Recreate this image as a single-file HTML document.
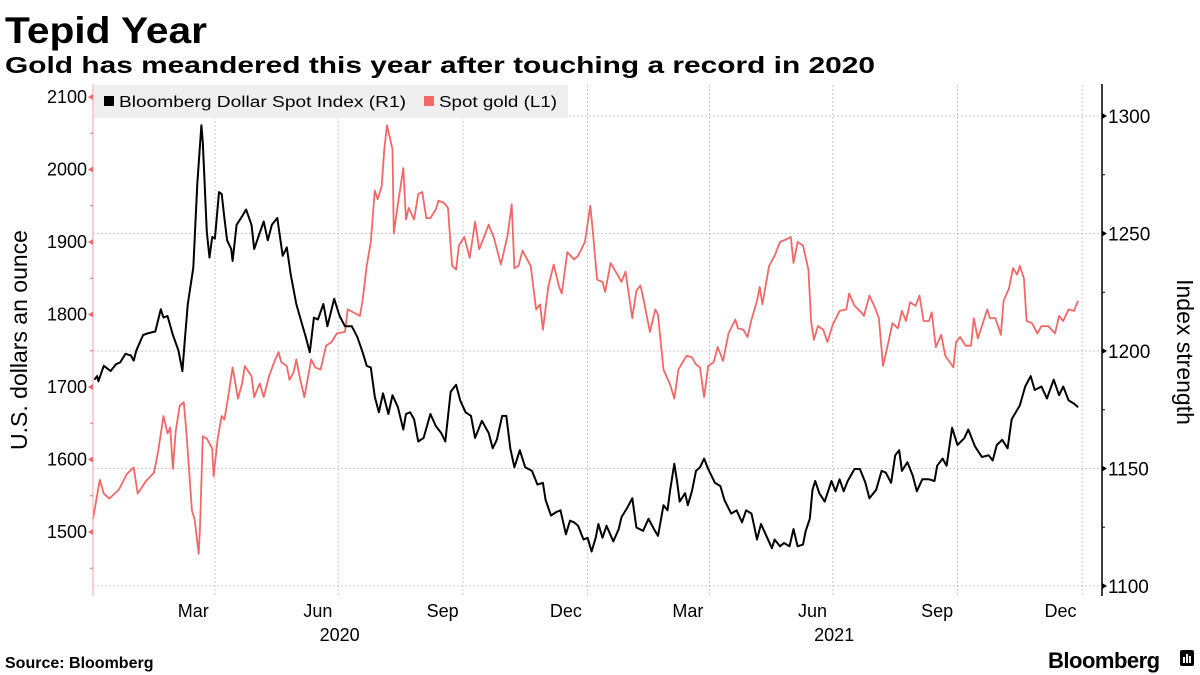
<!DOCTYPE html>
<html><head><meta charset="utf-8"><style>
html,body{margin:0;padding:0;background:#fff;}
svg{display:block;font-family:"Liberation Sans",sans-serif;}
</style></head><body>
<svg id="chart" width="1200" height="675" viewBox="0 0 1200 675">
<text x="5" y="43" font-size="37" font-weight="bold" textLength="202" lengthAdjust="spacingAndGlyphs">Tepid Year</text>
<text x="5" y="73" font-size="23" font-weight="bold" textLength="870" lengthAdjust="spacingAndGlyphs">Gold has meandered this year after touching a record in 2020</text>
<g id="grid"></g>
<g id="series"></g>
<g id="axes"></g>
<g>
<rect x="94" y="85" width="474" height="33" fill="#efefef"/>
<rect x="104" y="96" width="10" height="10" fill="#000"/>
<text x="119" y="107" font-size="15.5" textLength="287" lengthAdjust="spacingAndGlyphs">Bloomberg Dollar Spot Index (R1)</text>
<rect x="424" y="96" width="10" height="10" fill="#f26868"/>
<text x="439" y="107" font-size="15.5" textLength="118" lengthAdjust="spacingAndGlyphs">Spot gold (L1)</text>
</g>
<text transform="translate(27,340) rotate(-90)" text-anchor="middle" font-size="23">U.S. dollars an ounce</text>
<text transform="translate(1177,352) rotate(90)" text-anchor="middle" font-size="23">Index strength</text>
<text x="5" y="668" font-size="16" font-weight="bold">Source: Bloomberg</text>
<text x="1048" y="668" font-size="22" font-weight="bold" letter-spacing="-0.5">Bloomberg</text>
<g>
<rect x="1180" y="650" width="14" height="16" rx="2" fill="#000"/>
<rect x="1183" y="657" width="2" height="6" fill="#fff"/><rect x="1186" y="654" width="2" height="9" fill="#fff"/><rect x="1189" y="656" width="2" height="7" fill="#fff"/>
</g>
</svg>
<script>
const goldDays=[0,5,8,12,19,25,30,33,39,45,48,52,55,57,59,61,64,67,69,73,75,78,79,81,84,88,89,92,95,97,100,103,107,110,112,117,119,123,126,130,134,137,139,143,145,148,150,153,156,161,164,168,172,176,180,186,188,193,197,199,202,205,208,210,213,215,217,221,222,225,229,231,233,237,240,243,246,249,253,
255,259,262,265,268,270,274,278,282,285,289,292,296,301,306,309,311,314,317,323,327,330,332,336,340,344,346,350,355,358,363,367,369,372,376,378,382,387,390,393,398,401,404,406,411,415,417,421,426,429,432,438,442,445,448,451,454,458,461,465,469,474,476,480,483,486,
490,492,494,499,503,507,512,515,517,520,524,528,530,532,535,539,542,546,551,556,558,562,567,569,573,577,580,583,586,590,594,597,600,603,607,610,613,617,619,622,626,629,635,637,640,644,648,650,653,656,660,662,666,670,672,676,679,682,684,687,689,693,697,700,705,710,713,716,720,724,727];
const goldValues=[1518,1572,1553,1546,1558,1580,1589,1553,1570,1582,1610,1660,1636,1644,1587,1639,1674,1679,1636,1530,1518,1470,1506,1632,1629,1615,1577,1629,1660,1655,1689,1727,1684,1705,1729,1715,1686,1705,1686,1715,1736,1748,1734,1729,1710,1720,1738,1710,1686,1738,1727,1724,1757,1762,1774,1776,1807,1802,1798,1819,1867,1900,1971,1959,1976,2028,2061,2028,1912,1952,2002,1931,1947,1931,1966,1969,1933,1933,1945,
1957,1954,1947,1867,1862,1895,1907,1878,1928,1890,1909,1924,1905,1869,1909,1952,1864,1867,1888,1867,1807,1814,1779,1838,1869,1838,1829,1886,1876,1881,1900,1950,1912,1848,1845,1831,1871,1855,1845,1859,1795,1833,1840,1824,1776,1807,1800,1724,1703,1684,1724,1743,1741,1731,1727,1686,1729,1734,1755,1736,1774,1793,1781,1779,1769,1793,
1819,1838,1814,1867,1881,1900,1904,1907,1871,1900,1895,1862,1791,1765,1784,1779,1762,1786,1805,1807,1829,1812,1803,1798,1826,1810,1795,1729,1753,1788,1781,1805,1791,1817,1812,1826,1791,1791,1803,1755,1772,1743,1727,1762,1769,1757,1757,1795,1767,1784,1807,1795,1795,1772,1819,1836,1864,1855,1867,1850,1791,1788,1774,1784,1784,1774,1798,1791,1807,1805,1819];
const dollarDays=[1,3,4,8,13,17,20,24,28,30,32,37,41,46,50,52,55,59,63,66,68,70,74,77,80,81,84,86,88,90,93,95,97,99,102,103,106,110,113,117,119,122,126,129,132,136,140,143,146,150,154,157,160,163,166,170,173,178,182,186,191,195,199,202,205,208,211,214,218,221,225,229,231,234,237,240,244,249,253,
257,260,264,268,271,275,279,282,287,292,295,298,302,305,308,311,315,319,324,328,332,334,338,342,345,349,352,355,358,362,365,368,371,373,376,379,384,388,390,394,398,401,406,410,414,417,421,424,426,429,431,433,437,439,442,445,448,451,454,459,463,466,471,475,479,482,486,
490,493,497,501,503,507,510,514,517,520,524,526,529,531,533,536,540,545,548,551,554,557,562,566,570,573,578,582,585,589,592,595,597,601,605,608,612,617,621,623,627,630,634,638,643,646,651,656,661,664,667,671,675,678,681,684,688,692,695,700,704,709,713,716,720,724,727];
const dollarValues=[1187.8,1189.3,1187.1,1193.7,1191.5,1194.4,1195.1,1198.8,1198.1,1195.9,1200.3,1206.8,1207.6,1208.3,1217.8,1214.2,1214.9,1206.8,1200.3,1191.5,1206.1,1220,1235.4,1271.2,1296.1,1288.8,1250.7,1239.8,1248.5,1247.8,1267.6,1266.8,1256.6,1247.1,1243.4,1238.3,1253.7,1257.3,1260.2,1253.7,1243.4,1248.5,1255.1,1247.1,1253.7,1256.6,1240.5,1244.1,1232.4,1220,1211.9,1206.1,1199.5,1214.2,1213.4,1220,1210.5,1222.2,1214.9,1210.5,1210.5,1206.1,1199.5,1193.7,1193,1180.5,1173.9,1182,1173.2,1181.2,1176.1,1166.6,1173.2,1173.9,1171,1161.5,1163,1173.2,1168.1,
1165.1,1161.5,1182.7,1185.6,1179,1173.9,1172.4,1163,1170.3,1165.1,1158.6,1162.2,1172.4,1172.4,1158.6,1150.5,1157.8,1150.5,1149,1143.2,1143.9,1136.6,1130,1131.5,1132.2,1122,1127.8,1127.1,1125.6,1119.8,1120.5,1114.7,1120.5,1126.4,1120.5,1125.6,1119,1124.2,1129.3,1133,1137.3,1124.9,1123.5,1128.6,1124.2,1121.3,1134.4,1132.2,1141,1152,1144.7,1135.9,1139.5,1134.4,1140.3,1149,1150.5,1154.2,1149.8,1143.9,1142.5,1136.6,1130.8,1132.2,1127.1,1132.2,1130.8,
1119.8,1126.4,1121.3,1116.1,1119.8,1116.9,1118.3,1116.9,1124.2,1116.9,1117.6,1123.4,1128.6,1141,1144.7,1139.5,1135.9,1144.7,1140.3,1145.4,1140.3,1144.7,1149.8,1149.8,1143.9,1137.3,1141,1149,1148.3,1143.9,1155.6,1157.8,1149,1152.7,1146.9,1140.3,1145.4,1145.4,1144.7,1151.2,1154.2,1151.2,1167.3,1160,1162.9,1166.6,1159.3,1154.9,1155.6,1153.4,1160,1162.2,1158.6,1171,1173.9,1176.8,1184.9,1189.3,1183.4,1184.9,1179.8,1187.8,1181.2,1184.9,1179,1177.6,1176.1];
const leftTicks=[1500,1600,1700,1800,1900,2000,2100];
const rightTicks=[1100,1150,1200,1250,1300];
const gridDays=[90,181,273,365,455,546,638,730];
const monthLabels=["Mar","Jun","Sep","Dec","Mar","Jun","Sep","Dec"];
const monthLabelDays=[74,166,258,349,439,531,623,714];
const yearLabels=["2020","2021"];
const yearLabelDays=[182,547];

const NS="http://www.w3.org/2000/svg";
const X0=93,X1=1102;
const xS=d=>93+d*1.355;
const yL=v=>97+(2100-v)*0.725;
const yR=v=>116+(1300-v)*2.35;
function mk(tag,attrs,parent){const e=document.createElementNS(NS,tag);for(const k in attrs)e.setAttribute(k,attrs[k]);parent.appendChild(e);return e;}
const grid=document.getElementById('grid'),axes=document.getElementById('axes'),series=document.getElementById('series');
rightTicks.forEach(v=>{const l=mk('line',{x1:X0,x2:X1,y1:yR(v),y2:yR(v),stroke:'#c8c8c8','stroke-dasharray':'2,2','stroke-width':1},grid);

});
gridDays.forEach(d=>{const l=mk('line',{x1:xS(d),x2:xS(d),y1:85,y2:595,stroke:'#c8c8c8','stroke-dasharray':'2,2','stroke-width':1},grid);

});
// left axis
const la=mk('line',{x1:X0,x2:X0,y1:84,y2:596,stroke:'#f4a0a0','stroke-width':1},axes);


leftTicks.forEach(v=>{const y=yL(v);
const t=mk('path',{d:`M${X0} ${y-3}L${X0-5} ${y}L${X0} ${y+3}Z`,fill:'#f26868'},axes);


const m=mk('line',{x1:X0-3,x2:X0,y1:yL(v-50),y2:yL(v-50),stroke:'#f26868'},axes);


const tx=mk('text',{x:X0-6,y:y+6,'text-anchor':'end','font-size':18},axes);tx.textContent=v;

});
// right axis
const ra=mk('line',{x1:X1,x2:X1,y1:84,y2:596,stroke:'#000','stroke-width':1.5},axes);


rightTicks.forEach(v=>{const y=yR(v);
const t=mk('path',{d:`M${X1} ${y-3}L${X1+5} ${y}L${X1} ${y+3}Z`,fill:'#000'},axes);


if(v<1300){const m=mk('line',{x1:X1,x2:X1+3,y1:yR(v+25),y2:yR(v+25),stroke:'#000'},axes);

}
const tx=mk('text',{x:X1+6,y:y+7,'font-size':19},axes);tx.textContent=v;

});
monthLabels.forEach((m,i)=>{const tx=mk('text',{x:xS(monthLabelDays[i]),y:617,'text-anchor':'middle','font-size':18},axes);tx.textContent=m;

});
yearLabels.forEach((m,i)=>{const tx=mk('text',{x:xS(yearLabelDays[i]),y:641,'text-anchor':'middle','font-size':18},axes);tx.textContent=m;

});
function path(days,vals,ys){return days.map((d,i)=>(i?'L':'M')+xS(d).toFixed(1)+' '+ys(vals[i]).toFixed(1)).join('');}
const gp=mk('path',{d:path(goldDays,goldValues,yL),fill:'none',stroke:'#f26868','stroke-width':1.8,'stroke-linejoin':'round'},series);


const dp=mk('path',{d:path(dollarDays,dollarValues,yR),fill:'none',stroke:'#000','stroke-width':2,'stroke-linejoin':'round'},series);


</script>
</body></html>
